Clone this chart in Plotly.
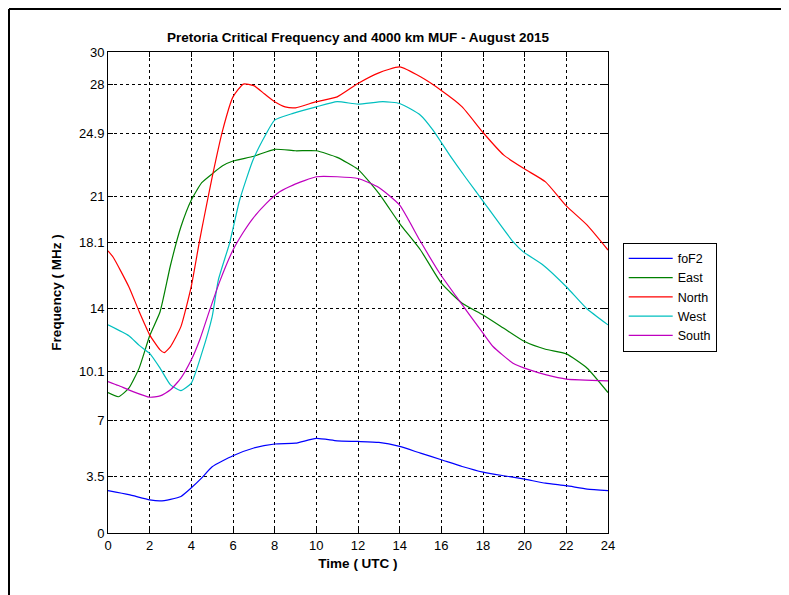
import plotly.graph_objects as go

# ---- data (hours UTC, MHz) ----
fof2_h = [0, 1, 2, 2.5, 3, 3.5, 4, 4.5, 5, 6, 7, 8, 9, 10, 11, 12, 13, 14, 15, 16, 17, 18, 19, 20, 21, 22, 23, 24]
fof2_f = [2.64, 2.39, 2.07, 2.0, 2.1, 2.28, 2.82, 3.44, 4.13, 4.82, 5.3, 5.55, 5.6, 5.9, 5.75, 5.71, 5.65, 5.4,
          4.98, 4.57, 4.15, 3.8, 3.57, 3.36, 3.11, 2.95, 2.74, 2.64]

east_h = [0, 0.5, 1, 1.5, 2, 2.5, 3, 3.5, 4, 4.5, 5, 5.5, 6, 7, 8, 9, 10, 11, 12, 13, 14, 15, 16, 17,
          18, 19, 20, 21, 22, 23, 24]
east_f = [8.76, 8.5, 9.03, 10.3, 12.3, 13.8, 16.7, 19.1, 20.77, 21.85, 22.4, 22.9, 23.2, 23.5, 23.93, 23.84,
          23.84, 23.43, 22.68, 21.18, 19.3, 17.65, 15.58, 14.33, 13.6, 12.77, 11.94, 11.46, 11.17, 10.28, 8.76]

north_h = [0, 0.25, 1, 1.5, 2, 2.5, 2.7, 3, 3.5, 4, 4.4, 4.6, 5, 5.5, 6, 6.5, 7, 7.5, 8, 8.5, 9, 10, 11, 12, 13,
           14, 15, 16, 17, 18, 19, 20, 21, 22, 23, 24]
north_f = [17.6, 17.2, 15.36, 13.8, 12.36, 11.42, 11.25, 11.63, 12.87, 15.4, 18.27, 19.6, 22.2, 25.1, 27.2, 28.0,
           27.9, 27.4, 26.9, 26.58, 26.52, 26.9, 27.2, 28.04, 28.7, 29.07, 28.45, 27.6, 26.58, 24.98, 23.57,
           22.7, 21.9, 20.4, 19.2, 17.65]

west_h = [0, 1, 1.5, 2, 2.5, 3, 3.5, 4, 4.5, 5, 5.3, 5.84, 6.32, 6.96, 7.6, 8, 8.88, 10, 11, 12, 13.2, 14, 15,
          15.6, 16.4, 17.2, 18, 19.44, 19.92, 20.88, 22, 22.96, 24]
west_f = [12.98, 12.3, 11.7, 11.2, 10.28, 9.24, 8.88, 9.35, 11.2, 13.5, 15.8, 18.1, 20.77, 23.26, 24.92, 25.75,
          26.17, 26.58, 26.9, 26.75, 26.9, 26.79, 26.06, 25.13, 23.57, 22.11, 20.7, 18.17, 17.55, 16.72, 15.36,
          14.02, 12.98]

south_h = [0, 0.5, 1.2, 2, 2.5, 3, 3.5, 4, 4.4, 4.88, 5.36, 6, 6.48, 6.96, 7.6, 8.24, 8.88, 10, 11, 12, 13,
           14, 14.96, 15.92, 16.72, 18, 18.48, 19.44, 20.24, 21.04, 22, 24]
south_f = [9.45, 9.2, 8.82, 8.47, 8.55, 8.93, 9.66, 10.8, 12.04, 13.9, 15.68, 17.65, 18.73, 19.63, 20.56, 21.28,
           21.7, 22.22, 22.22, 22.11, 21.55, 20.45, 18.27, 16.2, 14.74, 12.46, 11.63, 10.59, 10.17, 9.86,
           9.6, 9.49]

x_ticks = [0, 2, 4, 6, 8, 10, 12, 14, 16, 18, 20, 22, 24]
y_ticks = [0, 3.5, 7, 10.1, 14, 18.1, 21, 24.9, 28, 30]
y_tick_labels = ["0", "3.5", "7", "10.1", "14", "18.1", "21", "24.9", "28", "30"]

series = [
    ("foF2", fof2_h, fof2_f, "#0000ff"),
    ("East", east_h, east_f, "#008000"),
    ("North", north_h, north_f, "#ff0000"),
    ("West", west_h, west_f, "#00bfbf"),
    ("South", south_h, south_f, "#bf00bf"),
]

fig = go.Figure()
for name, xs, ys, col in series:
    fig.add_trace(go.Scatter(x=xs, y=ys, mode="lines", name=name,
                             line=dict(color=col, width=1.2, shape="spline", smoothing=0.5)))

FONT = "Liberation Sans, Arial, sans-serif"
axis_common = dict(showline=True, linecolor="black", linewidth=1, mirror="ticks",
                   ticks="inside", ticklen=5, tickcolor="black",
                   showgrid=True, gridcolor="black", griddash="dot", gridwidth=1,
                   zeroline=False, tickfont=dict(family=FONT, size=13, color="black"))

# page is offset by the 8px body margin, so margins are reduced by 8
L, T, PW, PH = 100, 44, 500, 481
W, H = 789, 595

fig.update_layout(
    width=W, height=H,
    margin=dict(l=L, r=W - L - PW, t=T, b=H - T - PH),
    paper_bgcolor="white", plot_bgcolor="white",
    font=dict(family=FONT, size=13, color="black"),
    title=dict(text="<b>Pretoria Critical Frequency and 4000 km MUF - August 2015</b>",
               x=(L + PW / 2) / W, xanchor="center", y=1 - 29 / H, yanchor="middle",
               font=dict(family=FONT, size=13.5, color="black")),
    xaxis=dict(range=[0, 24], tickvals=x_ticks, **axis_common,
               title=dict(text="<b>Time ( UTC )</b>", standoff=6,
                          font=dict(family=FONT, size=13.5, color="black"))),
    yaxis=dict(range=[0, 30], tickvals=y_ticks, ticktext=y_tick_labels, **axis_common,
               title=dict(text="<b>Frequency ( MHz )</b>", standoff=14,
                          font=dict(family=FONT, size=13.5, color="black"))),
    legend=dict(x=(614.7 - L) / PW, y=(T + PH - 234.7) / PH, xanchor="left", yanchor="top",
                bordercolor="black", borderwidth=1, bgcolor="white",
                font=dict(family=FONT, size=12.5, color="black"),
                tracegroupgap=0, itemwidth=44),
    showlegend=True,
)

# outer frame (left and top edges of the figure window)
fx = (1 - L) / PW
fy = (T + PH - 1) / PH
fig.add_shape(type="line", xref="paper", yref="paper", x0=fx, x1=fx,
              y0=(T + PH - H) / PH, y1=fy, line=dict(color="black", width=2))
fig.add_shape(type="line", xref="paper", yref="paper", x0=fx, x1=(W - L) / PW,
              y0=fy, y1=fy, line=dict(color="black", width=2))

fig.write_html("out.html")
